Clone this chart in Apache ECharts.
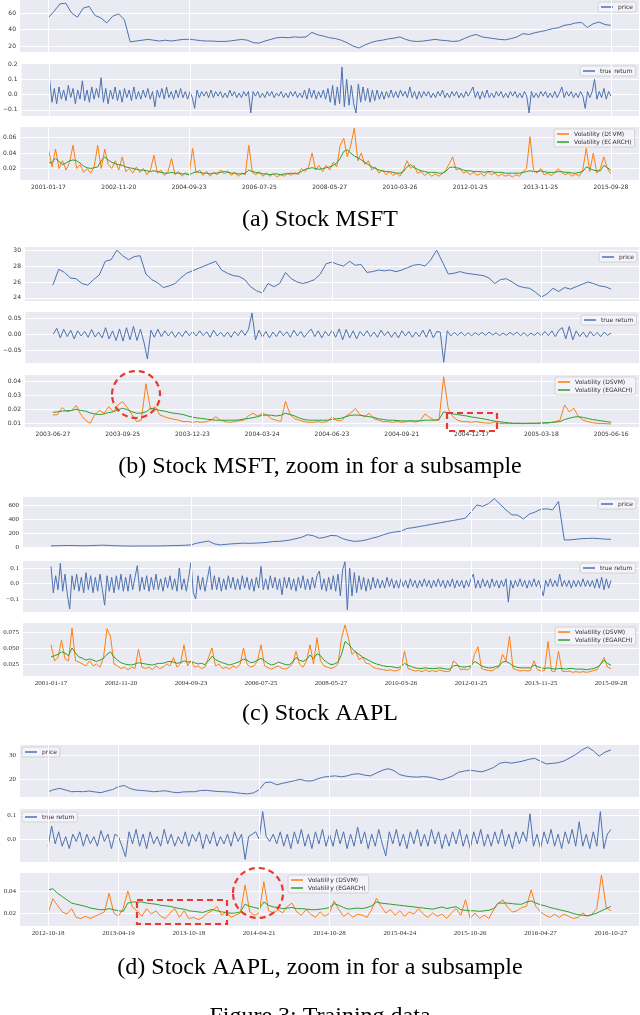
<!DOCTYPE html>
<html><head><meta charset="utf-8">
<script src="https://cdn.jsdelivr.net/npm/echarts@6/dist/echarts.min.js"></script>
<style>html,body{margin:0;padding:0;background:#fff}#chart{width:640px;height:1015px}</style>
</head><body><div id="chart"></div>
<script>
// ---------------- (a) Stock MSFT ----------------
const aDates = ["2001-01-17","2002-11-20","2004-09-23","2006-07-25","2008-05-27","2010-03-26","2012-01-25","2013-11-25","2015-09-28"];
const aPrice = [54,62,71,72,60,55,66,68,57,54,48,56,59,52,25,26,27,28,27,26,27,26,27,28,28,27.5,26.5,26,26,25.5,25.5,26,27,28,27,24,23.5,26,28,30,30.5,30,31,30.5,31,36.5,33.5,32,30,29,27,24,20,17.5,21,24,26,27,28.5,29.5,31,28,26,25.5,26,27,28,27,26.5,25.5,26,29,32,34,31,30,29,28,27.5,29,31,35,34,36,37.5,39,41,42,45,46,48,48.5,42.5,47,49,46,45];
const aReturn = [
0.10,-0.05,0.04,-0.06,0.05,-0.03,0.03,-0.04,0.06,-0.02,0.04,-0.06,0.03,-0.03,0.09,-0.04,0.03,-0.05,0.05,-0.03,
0.04,-0.02,0.11,-0.05,0.04,-0.06,0.03,-0.03,0.05,-0.04,0.03,-0.05,0.04,-0.02,0.03,-0.04,0.05,-0.03,0.02,-0.03,
0.03,-0.02,0.04,-0.03,0.02,-0.08,0.03,-0.02,0.04,-0.03,0.05,-0.02,0.02,-0.03,0.03,-0.02,0.04,-0.02,0.02,-0.03,
0.02,-0.02,-0.09,0.03,-0.02,0.02,-0.01,0.02,-0.02,0.03,-0.02,0.02,-0.01,0.02,-0.02,0.01,-0.02,0.03,-0.01,0.02,
-0.02,0.01,-0.02,0.02,-0.01,0.02,-0.12,0.02,-0.01,0.02,-0.02,0.01,-0.02,0.02,-0.01,0.02,-0.02,0.01,-0.01,0.02,
-0.02,0.01,-0.02,0.02,-0.01,0.02,-0.02,0.01,-0.02,0.03,-0.03,0.04,-0.02,0.03,-0.03,0.02,-0.02,0.03,-0.03,0.04,
-0.05,0.06,-0.07,0.05,-0.06,0.18,-0.08,0.10,-0.07,0.06,-0.06,-0.12,0.07,-0.05,0.05,-0.04,0.04,-0.05,0.03,-0.04,
0.03,-0.03,0.02,-0.03,0.02,-0.02,0.03,-0.02,0.02,-0.02,0.03,-0.01,0.02,-0.02,0.05,-0.02,0.02,-0.03,0.02,-0.02,
0.02,-0.01,0.02,-0.02,0.01,-0.02,0.02,-0.01,0.03,-0.02,0.01,-0.02,0.02,-0.01,0.02,-0.02,0.01,-0.02,0.02,-0.01,
0.02,0.05,-0.02,0.02,-0.03,0.02,-0.02,0.03,-0.02,0.01,-0.02,0.02,-0.01,0.02,-0.02,0.01,-0.02,0.02,-0.01,0.02,
-0.02,0.01,-0.02,0.02,-0.01,-0.12,0.02,-0.02,0.01,-0.02,0.02,-0.01,0.02,-0.02,0.01,-0.02,0.02,-0.02,0.01,0.05,
-0.02,0.02,-0.01,0.02,-0.02,0.01,-0.02,0.02,-0.01,-0.09,0.02,-0.02,0.02,0.10,-0.03,0.02,-0.02,0.04,-0.03,0.02,-0.01];
const aVolDSVM = [
0.045,0.022,0.045,0.02,0.03,0.018,0.028,0.05,0.02,0.025,0.015,0.02,0.014,0.022,0.05,0.02,0.045,0.025,0.02,0.03,
0.018,0.035,0.016,0.02,0.014,0.022,0.015,0.02,0.012,0.018,0.037,0.014,0.018,0.011,0.016,0.033,0.012,0.016,0.01,0.015,
0.011,0.046,0.014,0.018,0.011,0.016,0.01,0.015,0.012,0.018,0.013,0.017,0.011,0.015,0.01,0.014,0.012,0.05,0.015,0.012,
0.016,0.01,0.014,0.01,0.013,0.009,0.012,0.01,0.014,0.011,0.015,0.012,0.02,0.016,0.022,0.04,0.018,0.024,0.016,0.024,
0.018,0.028,0.022,0.05,0.059,0.035,0.05,0.072,0.03,0.04,0.025,0.03,0.018,0.022,0.014,0.018,0.012,0.016,0.011,0.014,
0.01,0.018,0.03,0.02,0.024,0.014,0.016,0.011,0.014,0.01,0.013,0.01,0.013,0.018,0.026,0.035,0.018,0.02,0.014,0.016,
0.012,0.015,0.011,0.014,0.01,0.016,0.012,0.014,0.01,0.013,0.01,0.012,0.009,0.012,0.01,0.016,0.02,0.061,0.018,0.014,
0.02,0.012,0.014,0.011,0.014,0.02,0.015,0.012,0.014,0.01,0.013,0.01,0.018,0.046,0.016,0.04,0.014,0.02,0.035,0.02,0.013];
const aVolEGARCH = [
0.027,0.028,0.033,0.029,0.025,0.027,0.03,0.031,0.03,0.027,0.023,0.021,0.02,0.021,0.022,0.03,0.035,0.031,0.028,0.026,
0.025,0.024,0.022,0.021,0.02,0.019,0.018,0.018,0.017,0.016,0.017,0.016,0.015,0.014,0.014,0.015,0.014,0.014,0.013,0.013,
0.012,0.014,0.016,0.015,0.014,0.014,0.013,0.014,0.014,0.015,0.016,0.015,0.014,0.014,0.013,0.013,0.014,0.018,0.016,0.015,
0.014,0.013,0.013,0.012,0.013,0.013,0.012,0.013,0.013,0.014,0.013,0.014,0.016,0.019,0.02,0.021,0.02,0.019,0.02,0.021,
0.022,0.024,0.027,0.033,0.042,0.044,0.04,0.036,0.034,0.031,0.028,0.025,0.022,0.02,0.018,0.017,0.016,0.016,0.015,0.014,
0.014,0.016,0.022,0.025,0.021,0.019,0.017,0.016,0.015,0.015,0.015,0.014,0.014,0.016,0.021,0.022,0.021,0.02,0.018,0.017,
0.017,0.016,0.016,0.016,0.015,0.016,0.016,0.015,0.015,0.015,0.014,0.014,0.014,0.014,0.014,0.015,0.016,0.017,0.016,0.016,
0.017,0.016,0.015,0.015,0.015,0.016,0.016,0.015,0.015,0.014,0.014,0.015,0.016,0.022,0.02,0.018,0.017,0.017,0.024,0.021,0.018];
const aVGrid = [0,2,8];
const aPriceTicks = [20,40,60], aReturnTicks = [-0.1,0,0.1,0.2], aVolTicks = [0.02,0.04,0.06];

// ---------------- (b) Stock MSFT, subsample ----------------
const bDates = ["2003-06-27","2003-09-25","2003-12-23","2004-03-24","2004-06-23","2004-09-21","2004-12-17","2005-03-18","2005-06-16"];
const bPrice = [25.6,27.6,27.2,26.5,26.4,25.8,25.6,26.3,26.9,28.6,28.8,30.0,29.3,28.8,29.2,29.3,27.0,26.3,25.9,25.3,
25.5,25.8,26.5,27.1,27.4,27.7,28.0,28.3,28.6,27.5,27.1,26.8,26.7,26.3,25.4,24.9,24.6,25.8,25.4,25.8,
27.2,26.4,26.0,25.8,26.0,26.3,27.0,28.3,28.5,28.2,28.0,28.6,28.1,28.2,27.2,27.3,27.5,27.4,27.5,27.3,
27.5,27.8,28.1,28.2,28.0,28.8,30.0,28.5,27.0,27.1,27.3,27.1,27.0,26.9,26.8,26.5,25.8,26.3,26.4,26.0,
25.5,25.3,25.2,24.7,24.1,24.5,25.2,24.8,25.3,25.1,25.4,25.7,26.0,25.8,25.5,25.4,25.1];
const bReturn = [
0.0,0.018,-0.012,0.015,-0.008,0.012,-0.015,0.01,-0.006,0.008,-0.01,0.014,-0.009,0.006,-0.012,0.02,-0.015,0.01,-0.02,0.016,
-0.022,0.02,-0.018,0.024,-0.02,0.015,-0.025,-0.078,0.012,-0.01,0.015,-0.008,0.01,-0.006,0.008,-0.01,0.006,-0.008,0.01,-0.005,
0.008,-0.006,0.01,-0.005,0.007,-0.01,0.012,-0.006,0.005,-0.008,0.006,-0.01,0.008,-0.005,0.012,-0.004,0.015,0.066,-0.018,0.012,
-0.01,0.008,-0.012,0.006,-0.008,0.01,-0.005,0.007,-0.01,0.012,-0.006,0.008,-0.01,0.005,0.015,-0.008,0.01,-0.012,0.008,-0.006,
0.012,-0.01,0.016,-0.018,0.014,-0.012,0.01,-0.015,0.008,-0.006,0.01,-0.008,0.006,-0.01,0.012,-0.005,0.008,-0.01,0.006,-0.012,
0.01,-0.006,0.008,-0.01,0.006,-0.008,0.012,-0.01,0.015,-0.012,0.008,0.006,-0.088,0.01,-0.006,0.005,-0.004,0.006,-0.005,0.004,
-0.005,0.004,-0.003,0.005,-0.004,0.006,-0.003,0.004,-0.005,0.003,-0.004,0.005,-0.003,0.006,-0.005,0.004,-0.006,0.003,-0.004,0.005,
-0.006,0.008,-0.005,0.01,-0.008,0.012,0.02,-0.015,0.024,-0.018,0.01,-0.008,0.006,-0.01,0.008,-0.006,0.005,-0.008,0.006,-0.004,0.003];
const bVolDSVM = [
0.0157,0.016,0.021,0.018,0.019,0.0225,0.016,0.012,0.0098,0.016,0.019,0.017,0.0217,0.018,0.023,0.0252,0.021,0.016,0.011,0.012,
0.038,0.0195,0.0217,0.0157,0.0145,0.0134,0.0127,0.012,0.011,0.011,0.0105,0.011,0.0105,0.011,0.012,0.0145,0.012,0.011,0.0105,0.011,
0.0115,0.012,0.015,0.017,0.015,0.017,0.0157,0.013,0.012,0.011,0.0255,0.016,0.013,0.012,0.011,0.0105,0.0105,0.011,0.0105,0.011,
0.0145,0.012,0.0115,0.015,0.017,0.0205,0.016,0.0145,0.017,0.013,0.012,0.011,0.011,0.0105,0.011,0.0105,0.011,0.0115,0.0105,0.012,
0.0165,0.014,0.012,0.012,0.043,0.02,0.0145,0.012,0.011,0.011,0.0105,0.011,0.0105,0.01,0.0098,0.0108,0.0098,0.0095,0.0098,0.0096,
0.0098,0.0095,0.0097,0.0098,0.0096,0.01,0.0098,0.0102,0.011,0.012,0.0229,0.018,0.0205,0.0145,0.012,0.011,0.0102,0.0098,0.0097,0.0095,0.0093];
const bVolEGARCH = [
0.0176,0.018,0.0186,0.0188,0.019,0.0198,0.019,0.0185,0.0172,0.0165,0.016,0.0165,0.0175,0.018,0.0195,0.0205,0.0195,0.018,0.017,0.017,
0.018,0.0205,0.02,0.019,0.0185,0.0176,0.017,0.0166,0.016,0.015,0.0142,0.0136,0.0132,0.0128,0.0124,0.012,0.012,0.012,0.012,0.012,
0.0122,0.0128,0.0132,0.0138,0.0145,0.0155,0.0157,0.0155,0.015,0.0155,0.017,0.016,0.015,0.0135,0.0125,0.012,0.012,0.012,0.012,0.012,
0.0125,0.013,0.0134,0.0145,0.0155,0.0157,0.0155,0.015,0.0145,0.014,0.013,0.0125,0.012,0.012,0.0118,0.0115,0.0115,0.0115,0.0115,0.0115,
0.012,0.012,0.012,0.0125,0.018,0.0172,0.0165,0.016,0.0155,0.015,0.0143,0.0138,0.0133,0.0127,0.012,0.0113,0.011,0.0105,0.0101,0.0098,
0.0098,0.0098,0.0098,0.0098,0.0099,0.01,0.0102,0.0104,0.0107,0.011,0.0125,0.0134,0.0142,0.0145,0.014,0.0132,0.0125,0.012,0.0115,0.011,0.0105];
const bVGrid = [2,3,4,7];
const bPriceTicks = [24,26,28,30], bReturnTicks = [-0.05,0,0.05], bVolTicks = [0.01,0.02,0.03,0.04];

// ---------------- (c) Stock AAPL ----------------
const cDates = ["2001-01-17","2002-11-20","2004-09-23","2006-07-25","2008-05-27","2010-03-26","2012-01-25","2013-11-25","2015-09-28"];
const cPrice = [15,18,20,22,20,18,17,20,24,26,22,18,16,14,13,14,15,14,15,16,
18,20,22,25,30,55,70,85,45,30,38,45,50,55,52,55,60,65,78,80,
88,100,120,140,175,160,125,140,165,160,120,95,80,86,100,125,145,175,200,215,
225,265,275,290,305,320,335,350,365,380,395,410,500,600,580,620,690,610,530,460,
455,400,470,500,540,545,530,650,100,102,110,120,122,125,120,112,110];
const cReturn = [
0.11,-0.06,0.05,-0.04,0.13,-0.05,0.06,-0.07,-0.165,0.05,-0.04,0.06,-0.05,0.04,-0.06,0.07,-0.04,0.05,-0.06,0.04,
-0.05,0.06,-0.04,-0.14,0.05,-0.05,0.04,-0.06,0.05,-0.04,0.06,-0.05,0.04,-0.05,0.06,-0.04,0.04,0.115,-0.05,0.04,
-0.04,0.05,-0.05,0.04,-0.04,0.06,-0.04,0.03,-0.05,0.04,-0.03,0.05,-0.04,0.03,-0.05,0.1,-0.04,0.03,-0.05,0.04,
0.135,-0.06,-0.10,0.05,-0.04,0.04,-0.05,0.03,0.11,-0.04,0.05,-0.04,0.04,-0.05,0.03,-0.04,0.05,-0.03,0.04,-0.04,
0.03,-0.04,0.05,-0.03,0.04,-0.04,0.03,-0.05,0.04,-0.03,0.11,-0.04,0.03,-0.04,0.05,-0.03,0.04,-0.04,0.03,-0.074,
0.04,-0.03,0.04,-0.04,0.03,-0.05,0.04,-0.03,0.05,-0.04,0.03,-0.04,0.04,-0.03,0.05,0.08,-0.04,0.03,-0.05,0.04,
-0.04,0.05,-0.05,0.06,-0.08,0.09,0.14,-0.17,0.10,-0.08,0.07,-0.06,0.05,-0.04,0.04,-0.05,0.03,-0.04,0.04,-0.03,
0.03,-0.03,0.02,-0.03,0.04,-0.02,0.03,-0.03,0.02,-0.03,0.03,-0.02,0.02,-0.03,0.03,-0.02,0.02,-0.03,0.02,-0.02,
0.03,-0.02,0.02,-0.03,0.02,-0.02,0.03,-0.02,0.02,-0.03,0.02,-0.02,0.03,-0.03,0.02,-0.02,0.02,-0.03,0.02,-0.02,
0.03,0.06,-0.03,0.02,-0.03,0.03,-0.02,0.02,-0.03,0.03,-0.02,0.02,-0.03,0.02,-0.02,0.03,-0.12,0.02,-0.03,0.02,
-0.02,0.03,-0.02,0.02,-0.03,0.02,-0.02,0.03,-0.02,0.02,-0.03,-0.08,0.02,-0.02,0.03,-0.02,0.02,-0.02,0.06,-0.02,
0.02,-0.02,0.02,-0.03,0.02,-0.02,0.02,-0.02,0.03,-0.02,0.02,-0.02,0.02,-0.03,0.03,-0.03,0.04,-0.04,0.03,-0.03,0.02];
const cVolDSVM = [
0.055,0.03,0.035,0.062,0.033,0.03,0.081,0.03,0.028,0.025,0.022,0.03,0.022,0.025,0.02,0.035,0.08,0.068,0.025,0.022,
0.018,0.02,0.016,0.02,0.018,0.048,0.02,0.018,0.02,0.016,0.022,0.018,0.02,0.025,0.022,0.035,0.02,0.025,0.055,0.022,
0.03,0.02,0.022,0.018,0.02,0.035,0.05,0.022,0.025,0.018,0.02,0.017,0.022,0.019,0.024,0.05,0.025,0.02,0.022,0.03,
0.055,0.022,0.019,0.017,0.02,0.022,0.018,0.017,0.02,0.025,0.045,0.025,0.02,0.03,0.055,0.025,0.066,0.03,0.022,0.02,
0.018,0.02,0.025,0.065,0.086,0.065,0.04,0.045,0.032,0.035,0.026,0.025,0.02,0.018,0.017,0.016,0.015,0.016,0.014,0.015,
0.018,0.045,0.018,0.016,0.014,0.015,0.013,0.016,0.013,0.015,0.013,0.016,0.014,0.013,0.014,0.03,0.025,0.016,0.017,0.016,
0.02,0.04,0.052,0.018,0.016,0.015,0.014,0.018,0.02,0.04,0.03,0.068,0.018,0.016,0.014,0.015,0.014,0.015,0.03,0.016,
0.014,0.015,0.06,0.014,0.013,0.045,0.014,0.013,0.014,0.012,0.013,0.012,0.013,0.012,0.013,0.015,0.016,0.025,0.035,0.02,0.018];
const cVolEGARCH = [
0.036,0.038,0.04,0.044,0.042,0.038,0.05,0.042,0.036,0.034,0.031,0.033,0.031,0.029,0.031,0.034,0.04,0.044,0.036,0.031,
0.027,0.025,0.024,0.0235,0.025,0.027,0.026,0.025,0.024,0.0235,0.025,0.026,0.026,0.028,0.029,0.028,0.026,0.027,0.03,0.028,
0.029,0.027,0.025,0.026,0.024,0.03,0.037,0.032,0.029,0.027,0.025,0.0235,0.025,0.027,0.029,0.033,0.031,0.027,0.028,0.031,
0.034,0.03,0.026,0.0235,0.025,0.028,0.026,0.024,0.0235,0.028,0.035,0.031,0.029,0.032,0.039,0.033,0.041,0.038,0.031,0.027,
0.024,0.025,0.028,0.04,0.06,0.056,0.049,0.044,0.04,0.036,0.033,0.03,0.027,0.025,0.0235,0.022,0.021,0.021,0.02,0.019,
0.021,0.026,0.023,0.021,0.019,0.018,0.018,0.019,0.018,0.018,0.018,0.019,0.018,0.017,0.017,0.022,0.023,0.021,0.02,0.021,
0.022,0.029,0.026,0.022,0.02,0.019,0.019,0.021,0.022,0.028,0.029,0.026,0.022,0.02,0.019,0.019,0.019,0.019,0.0234,0.021,
0.019,0.018,0.019,0.018,0.017,0.018,0.018,0.017,0.018,0.018,0.017,0.017,0.017,0.016,0.017,0.018,0.02,0.024,0.031,0.026,0.023];
const cVGrid = [2,5,6,7];
const cPriceTicks = [0,200,400,600], cReturnTicks = [-0.1,0,0.1], cVolTicks = [0.025,0.05,0.075];

// ---------------- (d) Stock AAPL, subsample ----------------
const dDates = ["2012-10-18","2013-04-19","2013-10-18","2014-04-21","2014-10-28","2015-04-24","2015-10-26","2016-04-27","2016-10-27"];
const dPrice = [14.7,15.6,16.1,15.4,14.7,14.8,14.7,15.0,14.6,14.3,15.0,15.6,16.8,17.3,16.0,15.4,15.2,15.0,14.7,14.9,
15.1,14.6,14.3,14.6,14.7,14.7,15.2,15.3,15.0,14.8,14.7,14.6,14.3,14.0,13.8,14.2,15.5,18.5,18.7,17.6,
18.2,18.7,19.3,19.9,19.2,19.2,20.1,20.8,21.1,21.3,20.9,21.3,22.0,22.2,21.6,21.3,22.5,23.6,24.3,23.5,
21.8,21.2,20.9,20.8,21.0,20.8,20.2,19.6,20.3,21.3,22.8,23.3,23.7,23.3,23.0,23.8,24.8,26.5,27.0,26.6,
27.0,27.5,28.2,28.6,27.4,26.3,26.5,26.8,27.5,28.8,30.2,32.0,33.3,31.8,29.5,31.2,32.1];
const dReturn = [
-0.03,0.054,-0.02,0.03,-0.03,0.01,-0.04,0.02,-0.01,0.03,-0.03,0.02,-0.02,0.01,-0.03,0.035,-0.01,0.02,-0.04,0.02,
0.01,-0.03,-0.074,0.03,-0.02,0.04,-0.03,0.02,-0.04,0.03,-0.02,0.01,-0.03,0.04,-0.02,0.02,-0.03,0.01,-0.02,0.03,
-0.03,0.02,-0.01,0.03,-0.04,0.02,-0.02,0.03,-0.03,0.01,-0.02,0.02,-0.03,0.03,-0.01,0.02,-0.085,0.01,0.02,0.03,
0.0,0.114,0.01,-0.01,0.02,-0.02,0.03,-0.03,0.02,-0.04,0.03,-0.02,0.04,-0.03,0.02,-0.04,0.03,-0.02,0.04,-0.03,
0.02,-0.03,0.04,-0.02,0.03,-0.04,0.02,-0.03,0.05,-0.02,0.03,-0.04,0.02,-0.03,0.04,-0.02,-0.07,0.03,-0.02,0.04,
-0.03,0.02,-0.04,0.03,-0.02,0.04,-0.03,0.02,-0.03,0.04,-0.02,0.03,-0.04,0.02,-0.03,0.03,-0.02,0.04,-0.03,0.02,
-0.04,0.03,-0.02,0.04,-0.03,0.02,-0.03,0.03,-0.02,0.04,-0.03,0.02,-0.04,0.03,-0.02,0.03,-0.01,0.105,-0.03,0.02,
-0.04,0.03,-0.02,0.04,-0.03,0.02,-0.04,0.03,-0.02,0.04,-0.03,0.072,-0.03,0.02,-0.04,0.03,-0.03,0.114,-0.04,0.02,0.04];
const dVolDSVM = [
0.02,0.033,0.027,0.021,0.019,0.024,0.016,0.015,0.017,0.015,0.017,0.019,0.021,0.038,0.02,0.017,0.024,0.04,0.025,0.022,
0.017,0.024,0.019,0.022,0.017,0.015,0.02,0.024,0.016,0.022,0.015,0.016,0.014,0.016,0.02,0.022,0.026,0.018,0.021,0.016,
0.018,0.02,0.0455,0.021,0.018,0.02,0.0485,0.022,0.02,0.023,0.02,0.026,0.029,0.021,0.018,0.023,0.019,0.016,0.021,0.017,
0.02,0.031,0.023,0.017,0.02,0.016,0.019,0.018,0.016,0.023,0.0334,0.026,0.02,0.023,0.018,0.022,0.017,0.021,0.019,0.024,
0.019,0.016,0.02,0.017,0.019,0.015,0.02,0.024,0.018,0.032,0.015,0.02,0.015,0.018,0.015,0.023,0.029,0.032,0.025,0.021,
0.022,0.025,0.026,0.041,0.026,0.021,0.018,0.016,0.019,0.016,0.019,0.017,0.015,0.016,0.02,0.017,0.019,0.024,0.0545,0.025,0.022];
const dVolEGARCH = [
0.041,0.042,0.038,0.035,0.032,0.029,0.028,0.027,0.026,0.0245,0.0238,0.023,0.023,0.024,0.023,0.022,0.0215,0.029,0.03,0.03,
0.03,0.029,0.0285,0.028,0.027,0.0265,0.026,0.025,0.024,0.0235,0.022,0.0215,0.021,0.0205,0.022,0.0233,0.022,0.021,0.0205,0.0198,
0.02,0.021,0.028,0.026,0.025,0.024,0.03,0.027,0.0255,0.025,0.024,0.0245,0.025,0.024,0.024,0.0235,0.023,0.023,0.0235,0.024,
0.025,0.0285,0.027,0.025,0.0235,0.024,0.0245,0.024,0.025,0.0265,0.03,0.029,0.0285,0.028,0.0275,0.027,0.0265,0.026,0.0255,0.025,
0.0245,0.024,0.0235,0.0245,0.0255,0.024,0.025,0.0257,0.023,0.0225,0.022,0.022,0.0215,0.022,0.0225,0.024,0.029,0.029,0.029,0.0285,
0.028,0.028,0.03,0.031,0.029,0.0275,0.0265,0.025,0.024,0.023,0.022,0.021,0.0195,0.0185,0.018,0.0175,0.0185,0.02,0.022,0.024,0.026];
const dVGrid = [0,1,3,4,6,7];
const dPriceTicks = [20,30], dReturnTicks = [0,0.1], dVolTicks = [0.02,0.04];

// ---------------- styling / layout ----------------
const BLUE = '#4c72b0', ORANGE = '#ff7f0e', GREEN = '#2ca02c', BG = '#eaeaf2', RED = '#e8392f';
const NAMES = {price:'price', ret:'true return', dsvm:'Volatility (DSVM)', egarch:'Volatility (EGARCH)'};

const panels = [
 {dates:aDates, vgrid:aVGrid, left:20, font:'DejaVu Sans', fs:6,
  plots:[
   {top:0, h:52, range:[12.7,75.8], ticks:aPriceTicks, dec:0, lines:[[NAMES.price,aPrice,BLUE]], lg:[598,2]},
   {top:64, h:52, range:[-0.14,0.2], ticks:aReturnTicks, dec:1, lines:[[NAMES.ret,aReturn,BLUE]], lg:[580,66]},
   {top:127, h:53, range:[0.00516,0.0735], ticks:aVolTicks, dec:2, lines:[[NAMES.dsvm,aVolDSVM,ORANGE],[NAMES.egarch,aVolEGARCH,GREEN]], lg:[554,129]}]},
 {dates:bDates, vgrid:bVGrid, left:25, font:'DejaVu Sans', fs:6,
  plots:[
   {top:247, h:54, range:[23.6,30.4], ticks:bPriceTicks, dec:0, lines:[[NAMES.price,bPrice,BLUE]], lg:[599,252]},
   {top:312, h:51, range:[-0.0906,0.069], ticks:bReturnTicks, dec:2, lines:[[NAMES.ret,bReturn,BLUE]], lg:[581,315]},
   {top:375, h:52, range:[0.00714,0.0443], ticks:bVolTicks, dec:2, lines:[[NAMES.dsvm,bVolDSVM,ORANGE],[NAMES.egarch,bVolEGARCH,GREEN]], lg:[555,377]}]},
 {dates:cDates, vgrid:cVGrid, left:23, font:'Liberation Serif', fs:7,
  plots:[
   {top:497, h:51, range:[-14.3,714], ticks:cPriceTicks, dec:0, lines:[[NAMES.price,cPrice,BLUE]], lg:[598,499]},
   {top:561, h:51, range:[-0.184,0.145], ticks:cReturnTicks, dec:1, lines:[[NAMES.ret,cReturn,BLUE]], lg:[580,563]},
   {top:623, h:53, range:[0.00625,0.089], ticks:cVolTicks, dec:3, lines:[[NAMES.dsvm,cVolDSVM,ORANGE],[NAMES.egarch,cVolEGARCH,GREEN]], lg:[555,627]}]},
 {dates:dDates, vgrid:dVGrid, left:20, font:'Liberation Serif', fs:7,
  plots:[
   {top:745, h:52, range:[12.5,34.17], ticks:dPriceTicks, dec:0, lines:[[NAMES.price,dPrice,BLUE]], lg:[22,747]},
   {top:809, h:53, range:[-0.0958,0.125], ticks:dReturnTicks, dec:1, lines:[[NAMES.ret,dReturn,BLUE]], lg:[22,812]},
   {top:873, h:53, range:[0.00818,0.05636], ticks:dVolTicks, dec:2, lines:[[NAMES.dsvm,dVolDSVM,ORANGE],[NAMES.egarch,dVolEGARCH,GREEN]], lg:[288,875]}]}
];

function fmtTick(v, ticks, dec) {
  const step = Math.abs(ticks[1] - ticks[0]);
  for (const t of ticks) if (Math.abs(v - t) < step * 1e-3) return (t < 0 ? '\u2212' : '') + Math.abs(t).toFixed(dec);
  return '';
}

const grids = [], xAxes = [], yAxes = [], series = [], legends = [];
panels.forEach(p => {
  p.plots.forEach((pl, k) => {
    const gi = grids.length;
    grids.push({left:p.left, right:1, top:pl.top, height:pl.h, show:true, backgroundColor:BG, borderWidth:0, containLabel:false});
    const n = Math.max(...pl.lines.map(l => l[1].length));
    const step = (n - 1) / 8, pad = 0.05 * (n - 1);
    const bottom = k === 2;
    xAxes.push({type:'value', gridIndex:gi, min:-pad, max:n - 1 + pad, minInterval:step, maxInterval:step,
      axisLine:{show:false}, axisTick:{show:false}, splitLine:{show:false},
      axisLabel:{show:bottom, showMinLabel:false, showMaxLabel:false, margin:4, fontSize:p.fs, fontFamily:p.font, color:'#333',
        formatter: v => { const r = v / step, ri = Math.round(r); return (Math.abs(r - ri) < 1e-6 && ri >= 0 && ri < p.dates.length) ? p.dates[ri] : ''; }}});
    const ystep = Math.abs(pl.ticks[1] - pl.ticks[0]);
    yAxes.push({type:'value', gridIndex:gi, min:pl.range[0], max:pl.range[1], minInterval:ystep, maxInterval:ystep,
      axisLine:{show:false}, axisTick:{show:false},
      splitLine:{show:true, showMinLine:false, showMaxLine:false, lineStyle:{color:'#ffffff', width:1}},
      axisLabel:{margin:4, fontSize:p.fs, fontFamily:p.font, color:'#333', formatter: v => fmtTick(v, pl.ticks, pl.dec)}});
    series.push({type:'line', xAxisIndex:gi, yAxisIndex:gi, data:[], silent:true, z:1,
      markLine:{silent:true, symbol:['none','none'], label:{show:false}, animation:false,
        lineStyle:{color:'#ffffff', width:1, type:'solid'}, emphasis:{disabled:true},
        data:p.vgrid.map(t => ({xAxis:t * step}))}});
    pl.lines.forEach(l => series.push({type:'line', name:l[0], xAxisIndex:gi, yAxisIndex:gi,
      data:l[1].map((v, i) => [i, v]), symbol:'none', showSymbol:false, silent:true, z:3,
      lineStyle:{width:1, color:l[2]}, itemStyle:{color:l[2]}, emphasis:{disabled:true}}));
    legends.push({data:pl.lines.map(l => l[0]), left:pl.lg[0], top:pl.lg[1], orient:'vertical', icon:'rect',
      itemWidth:12, itemHeight:1.5, itemGap:2, padding:[2,3], selectedMode:false,
      backgroundColor:'rgba(245,245,250,0.85)', borderColor:'#cccccc', borderWidth:0.8, borderRadius:2,
      textStyle:{fontSize:6, fontFamily:'DejaVu Sans', color:'#333'}});
  });
});

const dash = {fill:'none', stroke:RED, lineWidth:2.2, lineDash:[6,4]};
const captions = [
  ['(a) Stock MSFT', 220], ['(b) Stock MSFT, zoom in for a subsample', 467],
  ['(c) Stock AAPL', 714], ['(d) Stock AAPL, zoom in for a subsample', 968], ['Figure 3: Training data', 1017]
];
const graphic = [
  {type:'ellipse', shape:{cx:136, cy:394.5, rx:24, ry:23.5}, style:dash, z:100, silent:true},
  {type:'rect', shape:{x:447, y:413, width:50, height:18}, style:dash, z:100, silent:true},
  {type:'ellipse', shape:{cx:258, cy:893, rx:25, ry:25}, style:dash, z:100, silent:true},
  {type:'rect', shape:{x:137, y:900, width:90, height:24}, style:dash, z:100, silent:true}
].concat(captions.map(c => ({type:'text', x:320, y:c[1], silent:true, z:100,
  style:{text:c[0], fontSize:24, fontFamily:'Liberation Serif', fill:'#000', align:'center', verticalAlign:'middle'}})));

const chart = echarts.init(document.getElementById('chart'), null, {renderer:'canvas'});
chart.setOption({animation:false, backgroundColor:'#fff', grid:grids, xAxis:xAxes, yAxis:yAxes, series:series, legend:legends, graphic:graphic});
</script></body></html>
